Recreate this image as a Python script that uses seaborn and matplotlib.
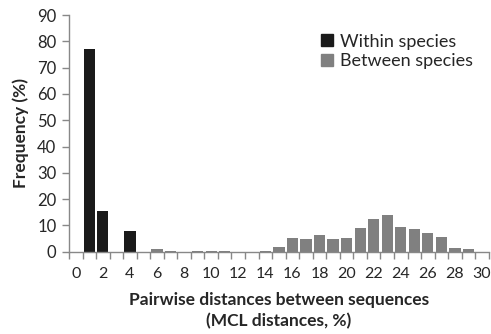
import pandas as pd
import matplotlib.pyplot as plt
import seaborn as sns
from matplotlib.ticker import FixedLocator, NullFormatter
from matplotlib.patches import Patch

# Distance classes (MCL distance, %)
distances = list(range(0, 31))

# Frequency (%) of pairwise distances within species
within_species = [0, 77.0, 15.3, 0, 7.7, 0, 0, 0, 0, 0,
                  0, 0, 0, 0, 0, 0, 0, 0, 0, 0,
                  0, 0, 0, 0, 0, 0, 0, 0, 0, 0, 0]

# Frequency (%) of pairwise distances between species
between_species = [0, 0, 0, 0, 0, 0, 0.9, 0.4, 0, 0.3,
                   0.3, 0.3, 0, 0, 0.3, 1.9, 5.2, 4.7, 6.2, 4.7,
                   5.2, 9.1, 12.3, 13.8, 9.5, 8.5, 7.2, 5.7, 1.4, 0.9, 0]

df = pd.DataFrame({
    "distance": distances * 2,
    "freq": within_species + between_species,
    "group": ["Within species"] * 31 + ["Between species"] * 31,
})

sns.set_style("white")
plt.rcParams["font.family"] = ["Lato", "DejaVu Sans"]

colors = {"Within species": "#1a1a1a", "Between species": "#808080"}

fig = plt.figure(figsize=(4.91, 3.34), dpi=100)
ax = fig.add_axes([0.1405, 0.2464, 0.855, 0.7086])

sns.barplot(data=df, x="distance", y="freq", hue="group", dodge=False,
            palette=colors, width=0.83, edgecolor="none", legend=False, ax=ax)

ax.set_xlim(-0.5, 30.5)
ax.set_ylim(0, 90)
ax.set_yticks(range(0, 91, 10))
ax.tick_params(axis="y", direction="out", length=5, width=1, color="#888888",
               labelsize=12, left=True, pad=4)

# labels at even categories, tick marks between categories
ax.set_xticks(range(0, 31, 2))
ax.set_xticklabels([str(d) for d in range(0, 31, 2)])
ax.xaxis.set_minor_locator(FixedLocator([d - 0.5 for d in range(0, 32)]))
ax.xaxis.set_minor_formatter(NullFormatter())
ax.tick_params(axis="x", which="major", length=0, labelsize=11.5, pad=11)
ax.tick_params(axis="x", which="minor", direction="out", length=5, width=1,
               color="#888888", bottom=True)

for s in ["top", "right"]:
    ax.spines[s].set_visible(False)
for s in ["left", "bottom"]:
    ax.spines[s].set_color("#888888")
    ax.spines[s].set_linewidth(1)

ax.set_xlabel("Pairwise distances between sequences\n(MCL distances, %)",
              fontsize=12.5, fontweight="bold", labelpad=8, linespacing=1.35)
ax.set_ylabel("Frequency (%)", fontsize=12.5, fontweight="bold", labelpad=6)

handles = [Patch(color=colors[g]) for g in colors]
ax.legend(handles, list(colors), loc="upper right", frameon=False,
          fontsize=13, handlelength=0.65, handleheight=0.65, handletextpad=0.35,
          labelspacing=0.2, bbox_to_anchor=(1.0, 0.99))

plt.savefig("out.png", dpi=100)
